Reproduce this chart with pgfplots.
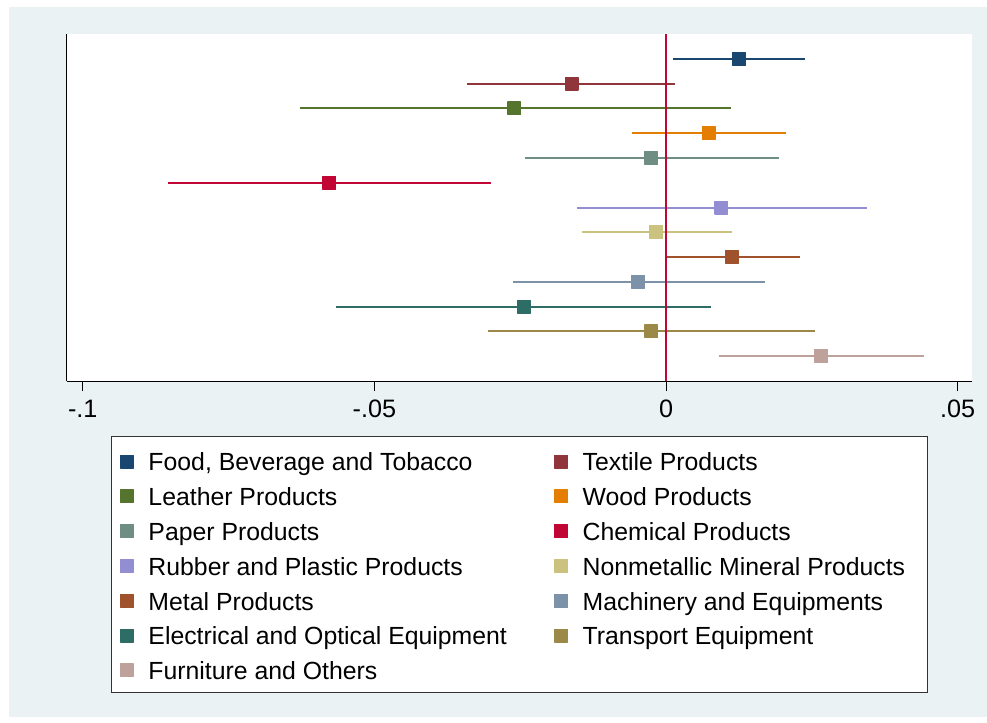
\documentclass[border=0pt]{standalone}
\usepackage{fontspec}
\setmainfont{Liberation Sans}
\usepackage{pgfplots}
\pgfplotsset{compat=1.18}
\definecolor{bgc}{HTML}{EAF2F3}
\definecolor{cNavy}{HTML}{1A476F}
\definecolor{cMaroon}{HTML}{90353B}
\definecolor{cForest}{HTML}{55752F}
\definecolor{cOrange}{HTML}{E37E00}
\definecolor{cTeal}{HTML}{6E8E84}
\definecolor{cCran}{HTML}{C10534}
\definecolor{cLav}{HTML}{938DD2}
\definecolor{cKhaki}{HTML}{CAC27E}
\definecolor{cSienna}{HTML}{A0522D}
\definecolor{cBlue}{HTML}{7B92A8}
\definecolor{cEmer}{HTML}{2D6D66}
\definecolor{cBrown}{HTML}{9C8847}
\definecolor{cRose}{HTML}{BFA19C}
\pgfplotsset{
  ci/.style={#1, line width=1pt, forget plot},
  pt/.style={#1, only marks, mark=square*, mark size=3.2pt,
     mark options={fill=#1, draw=#1, line width=0.6pt, line join=round}},
}
\begin{document}
\begin{tikzpicture}
\fill[white] (-33.5pt,-171pt) rectangle (460pt,190.5pt);
\fill[bgc] (-29pt,-168pt) rectangle (460pt,187pt);
% legend frame
\draw[black!80, line width=0.5pt, fill=white] (22.35pt,-27.85pt) rectangle (430.35pt,-155.85pt);
\begin{axis}[
  at={(0pt,0pt)}, anchor=south west,
  scale only axis, width=452.5pt, height=173.5pt,
  xmin=-0.1027, xmax=0.05245, ymin=0, ymax=14,
  axis background/.style={fill=white},
  axis x line*=bottom, axis y line*=left,
  axis line style={-, black, line width=0.5pt},
  ytick=\empty,
  xtick={-0.1,-0.05,0,0.05},
  xticklabels={-.1,-.05,0,.05},
  tick align=outside, major tick length=5pt,
  tick style={black, line width=0.5pt},
  /pgf/number format/assume math mode=true,
  xticklabel style={font=\fontsize{12.6}{15}\selectfont, yshift=-1pt},
  clip=false,
  legend columns=2, legend cell align=left,
  legend image code/.code={\draw[#1] plot coordinates {(3.5pt,0pt)};},
  legend style={at={(rel axis cs:0,0)}, anchor=north west,
    xshift=22.35pt, yshift=-28.1pt,
    draw=none, fill=none,
    font=\fontsize{12.4}{15}\selectfont,
    inner xsep=4.3pt, inner ysep=6pt, row sep=5.4pt,
    nodes={inner sep=0pt, text height=10.6pt, text depth=1.4pt, anchor=west},
    /tikz/every odd column/.append style={column sep=7.5pt},
    /tikz/every even column/.append style={column sep=24pt}},
]
% confidence intervals
\addplot[ci=cNavy]   coordinates {(0.0012,13) (0.0238,13)};
\addplot[ci=cMaroon] coordinates {(-0.0341,12) (0.0015,12)};
\addplot[ci=cForest] coordinates {(-0.0628,11) (0.0111,11)};
\addplot[ci=cOrange] coordinates {(-0.0058,10) (0.0206,10)};
\addplot[ci=cTeal]   coordinates {(-0.0241,9) (0.0193,9)};
\addplot[ci=cCran]   coordinates {(-0.0853,8) (-0.0300,8)};
\addplot[ci=cLav]    coordinates {(-0.0153,7) (0.0344,7)};
\addplot[ci=cKhaki]  coordinates {(-0.0144,6) (0.0113,6)};
\addplot[ci=cSienna] coordinates {(-0.0001,5) (0.0229,5)};
\addplot[ci=cBlue]   coordinates {(-0.0263,4) (0.0169,4)};
\addplot[ci=cEmer]   coordinates {(-0.0566,3) (0.0077,3)};
\addplot[ci=cBrown]  coordinates {(-0.0305,2) (0.0256,2)};
\addplot[ci=cRose]   coordinates {(0.0090,1) (0.0442,1)};
% zero line
\addplot[cCran, line width=1pt, forget plot] coordinates {(0,0) (0,14)};
% point estimates
\addplot[pt=cNavy]   coordinates {(0.0125,13)}; \addlegendentry{Food, Beverage and Tobacco}
\addplot[pt=cMaroon] coordinates {(-0.0162,12)}; \addlegendentry{Textile Products}
\addplot[pt=cForest] coordinates {(-0.0260,11)}; \addlegendentry{Leather Products}
\addplot[pt=cOrange] coordinates {(0.0073,10)}; \addlegendentry{Wood Products}
\addplot[pt=cTeal]   coordinates {(-0.0025,9)}; \addlegendentry{Paper Products}
\addplot[pt=cCran]   coordinates {(-0.0577,8)}; \addlegendentry{Chemical Products}
\addplot[pt=cLav]    coordinates {(0.0095,7)}; \addlegendentry{Rubber and Plastic Products}
\addplot[pt=cKhaki]  coordinates {(-0.0017,6)}; \addlegendentry{Nonmetallic Mineral Products}
\addplot[pt=cSienna] coordinates {(0.0113,5)}; \addlegendentry{Metal Products}
\addplot[pt=cBlue]   coordinates {(-0.0048,4)}; \addlegendentry{Machinery and Equipments}
\addplot[pt=cEmer]   coordinates {(-0.0244,3)}; \addlegendentry{Electrical and Optical Equipment}
\addplot[pt=cBrown]  coordinates {(-0.0025,2)}; \addlegendentry{Transport Equipment}
\addplot[pt=cRose]   coordinates {(0.0266,1)}; \addlegendentry{Furniture and Others}
\end{axis}
\end{tikzpicture}
\end{document}
